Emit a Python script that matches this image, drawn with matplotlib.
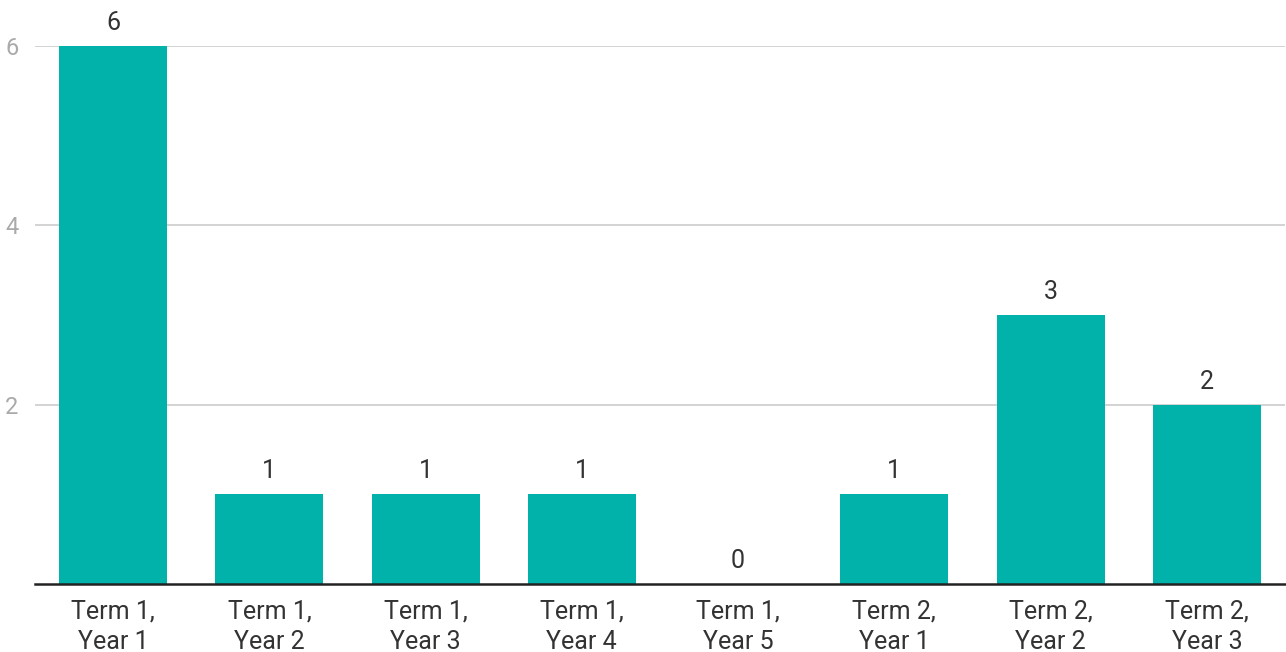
import matplotlib
matplotlib.use("Agg")
import matplotlib.pyplot as plt

categories = ["Term 1,\nYear 1", "Term 1,\nYear 2", "Term 1,\nYear 3", "Term 1,\nYear 4",
              "Term 1,\nYear 5", "Term 2,\nYear 1", "Term 2,\nYear 2", "Term 2,\nYear 3"]
values = [6, 1, 1, 1, 0, 1, 3, 2]
yticks = [2, 4, 6]

plt.rcParams['font.family'] = ['Roboto', 'DejaVu Sans']

fig = plt.figure(figsize=(12.86, 6.52), dpi=100)
ax = fig.add_axes([35/1286, 68/652, 1250/1286, 538/652])

x = list(range(len(categories)))
bars = ax.bar(x, values, width=0.69, color="#00B2A9", zorder=3)
ax.set_xlim(-0.5, len(categories) - 0.5)
ax.set_ylim(0, 6)

for xi, v in zip(x, values):
    ax.annotate(str(v), (xi, v), xytext=(0, 8), textcoords="offset points",
                ha="center", va="bottom", fontsize=18, color="#333333",
                annotation_clip=False)

ax.set_yticks(yticks)
ax.set_yticklabels([str(t) for t in yticks])
ax.tick_params(axis="y", length=0, pad=12, labelsize=17, labelcolor="#aaaaaa")
ax.set_xticks(x)
ax.set_xticklabels(categories, linespacing=1.35)
ax.tick_params(axis="x", length=0, pad=11, labelsize=18, labelcolor="#333333")

ax.grid(axis="y", color="#cccccc", linewidth=1.2, zorder=0)
for s in ["top", "right", "left"]:
    ax.spines[s].set_visible(False)
ax.spines["bottom"].set_color("#222222")
ax.spines["bottom"].set_linewidth(1.8)
ax.spines["bottom"].set_zorder(4)

fig.savefig("out.png", dpi=100)
